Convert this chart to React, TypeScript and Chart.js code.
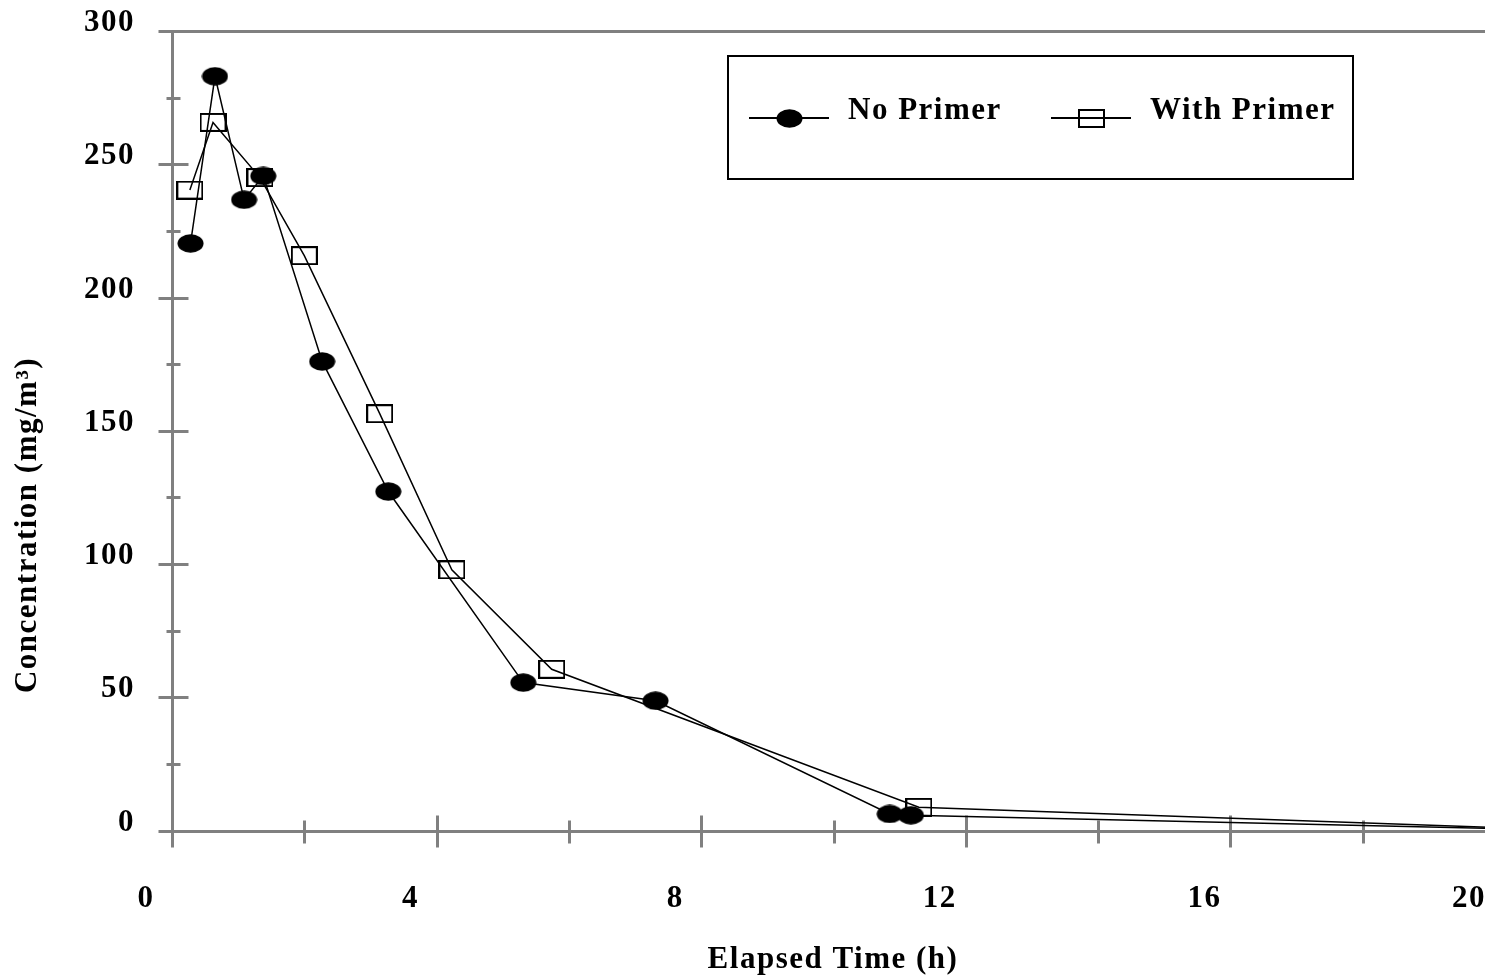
import React, { useEffect, useRef } from 'react';
import { Chart, registerables } from 'chart.js';

Chart.register(...registerables);

// Measured concentrations over elapsed time
const noPrimerTime = [0.28, 0.65, 1.09, 1.38, 2.27, 3.27, 5.31, 7.31, 10.85, 11.17, 21];
const noPrimerConc = [220.3, 283.0, 236.7, 245.6, 176.0, 127.2, 55.5, 48.7, 6.2, 5.7, 0.2];

const withPrimerTime = [0.27, 0.62, 1.33, 2.0, 3.14, 4.23, 5.74, 11.29, 21];
const withPrimerConc = [240.3, 265.7, 245.0, 215.7, 156.4, 97.8, 60.5, 8.7, 0.3];

const seriesLabels = ['No Primer', 'With Primer'];

const xTickLabels = ['0', '4', '8', '12', '16', '20'];
const yTickLabels = ['0', '50', '100', '150', '200', '250', '300'];

const xTitle = 'Elapsed Time (h)';
const yTitle = 'Concentration (mg/m³)';

const FONT_FAMILY = '"Liberation Serif", "Times New Roman", serif';
const FONT_SIZE = 31;
const LETTER_SPACING = '1.5px';
const AXIS_GRAY = '#808080';

function makeDisc(): HTMLCanvasElement {
  const c = document.createElement('canvas');
  c.width = 27;
  c.height = 19;
  const g = c.getContext('2d')!;
  g.fillStyle = '#000';
  g.beginPath();
  g.ellipse(13.5, 9.5, 13, 9.3, 0, 0, Math.PI * 2);
  g.fill();
  return c;
}

function makeBox(): HTMLCanvasElement {
  const c = document.createElement('canvas');
  c.width = 27;
  c.height = 19;
  const g = c.getContext('2d')!;
  g.strokeStyle = '#000';
  g.lineWidth = 2;
  g.strokeRect(1, 1, 25, 17);
  return c;
}

const crisp = (v: number) => Math.round(v) + 0.5;

// Axis frame, tick marks crossing the axes, axis titles and the boxed legend
const framePlugin = {
  id: 'frame',
  beforeDraw(chart: any) {
    chart.ctx.letterSpacing = LETTER_SPACING;
  },
  beforeDatasetsDraw(chart: any) {
    const { ctx, scales } = chart;
    const xs = scales.x;
    const ys = scales.y;
    const x0 = crisp(xs.getPixelForValue(0));
    const y0 = crisp(ys.getPixelForValue(0));
    const yTop = crisp(ys.getPixelForValue(300));
    const rightEdge = chart.width;

    ctx.save();
    ctx.strokeStyle = AXIS_GRAY;
    ctx.lineWidth = 3;
    ctx.lineCap = 'butt';
    const seg = (ax: number, ay: number, bx: number, by: number) => {
      ctx.beginPath();
      ctx.moveTo(ax, ay);
      ctx.lineTo(bx, by);
      ctx.stroke();
    };

    // frame lines
    seg(x0 - 14, yTop, rightEdge, yTop);
    seg(x0 - 14, y0, rightEdge, y0);
    seg(x0, yTop - 1.5, x0, y0 + 16);

    // y ticks
    for (let v = 25; v < 300; v += 25) {
      const p = crisp(ys.getPixelForValue(v));
      if (v % 50 === 0) seg(x0 - 14, p, x0 + 16, p);
      else seg(x0 - 6, p, x0 + 8, p);
    }
    // x ticks
    for (let v = 2; v <= 20; v += 2) {
      const p = crisp(xs.getPixelForValue(v));
      if (v % 4 === 0) seg(p, y0 - 16, p, y0 + 16);
      else seg(p, y0 - 11, p, y0 + 12);
    }
    ctx.restore();
  },
  afterDraw(chart: any) {
    const { ctx, chartArea } = chart;
    ctx.save();
    ctx.letterSpacing = LETTER_SPACING;
    ctx.fillStyle = '#000';
    ctx.font = `bold ${FONT_SIZE}px ${FONT_FAMILY}`;

    // x title
    ctx.textAlign = 'center';
    ctx.textBaseline = 'alphabetic';
    ctx.fillText(xTitle, 833, 968);

    // y title
    ctx.save();
    ctx.translate(27.5, 525);
    ctx.rotate(-Math.PI / 2);
    ctx.textAlign = 'center';
    ctx.textBaseline = 'middle';
    ctx.fillText(yTitle, 0, 0);
    ctx.restore();

    // legend box
    const lx = chartArea.left + 555;
    const ly = chartArea.top + 24;
    const lw = 627;
    const lh = 125;
    ctx.fillStyle = '#fff';
    ctx.fillRect(lx, ly, lw, lh);
    ctx.strokeStyle = '#000';
    ctx.lineWidth = 2;
    ctx.strokeRect(lx + 1, ly + 1, lw - 2, lh - 2);

    const itemX = [lx + 22, lx + 324];
    const rowY = ly + 63;
    chart.data.datasets.forEach((ds: any, i: number) => {
      const sx = itemX[i];
      ctx.strokeStyle = '#000';
      ctx.lineWidth = 2;
      ctx.beginPath();
      ctx.moveTo(sx, rowY);
      ctx.lineTo(sx + 80, rowY);
      ctx.stroke();
      const img = ds.pointStyle as HTMLCanvasElement;
      ctx.drawImage(img, Math.round(sx + 40 - img.width / 2), Math.round(rowY - img.height / 2));
      ctx.fillStyle = '#000';
      ctx.textAlign = 'left';
      ctx.textBaseline = 'alphabetic';
      ctx.fillText(ds.label, sx + 99, rowY + 1);
    });
    ctx.restore();
    ctx.letterSpacing = '0px';
  },
};

export default function App() {
  const canvasRef = useRef<HTMLCanvasElement | null>(null);

  useEffect(() => {
    const canvas = canvasRef.current;
    if (!canvas) return;
    const disc = makeDisc();
    const box = makeBox();
    const tickFont = { family: FONT_FAMILY, size: FONT_SIZE, weight: 'bold' as const };

    const chart = new Chart(canvas, {
      type: 'line',
      data: {
        datasets: [
          {
            label: seriesLabels[0],
            data: noPrimerTime.map((t, i) => ({ x: t, y: noPrimerConc[i] })),
            borderColor: '#000',
            borderWidth: 1.5,
            pointStyle: disc as any,
            pointRadius: 10,
            tension: 0,
            fill: false,
          },
          {
            label: seriesLabels[1],
            data: withPrimerTime.map((t, i) => ({ x: t, y: withPrimerConc[i] })),
            borderColor: '#000',
            borderWidth: 1.5,
            pointStyle: box as any,
            pointRadius: 10,
            tension: 0,
            fill: false,
          },
        ],
      },
      options: {
        responsive: false,
        animation: false,
        events: [],
        layout: { padding: { top: 31, right: 65, left: 0, bottom: 0 } },
        plugins: {
          legend: { display: false },
          tooltip: { enabled: false },
        },
        scales: {
          x: {
            type: 'linear',
            min: 0,
            max: 20,
            grid: { display: false, drawTicks: false },
            border: { display: false },
            ticks: {
              stepSize: 2,
              autoSkip: false,
              maxRotation: 0,
              color: '#000',
              font: tickFont,
              padding: 50,
              labelOffset: -26,
              callback: (v: any) => (xTickLabels.includes(String(v)) ? String(v) : ''),
            },
            afterFit: (s: any) => {
              s.height = 149.5;
              s.paddingLeft = 0;
              s.paddingRight = 0;
            },
          },
          y: {
            type: 'linear',
            min: 0,
            max: 300,
            grid: { display: false, drawTicks: false },
            border: { display: false },
            ticks: {
              stepSize: 25,
              autoSkip: false,
              color: '#000',
              font: tickFont,
              padding: 37,
              labelOffset: -8,
              callback: (v: any) => (yTickLabels.includes(String(v)) ? String(v) : ''),
            },
            afterFit: (s: any) => {
              s.width = 172;
              s.paddingTop = 0;
              s.paddingBottom = 0;
            },
          },
        },
      },
      plugins: [framePlugin],
    });

    return () => chart.destroy();
  }, []);

  return (
    <div
      style={{
        position: 'fixed',
        left: 0,
        top: 0,
        width: 1485,
        height: 980,
        overflow: 'hidden',
        background: '#fff',
      }}
    >
      <canvas ref={canvasRef} width={1560} height={980} style={{ display: 'block' }} />
    </div>
  );
}
